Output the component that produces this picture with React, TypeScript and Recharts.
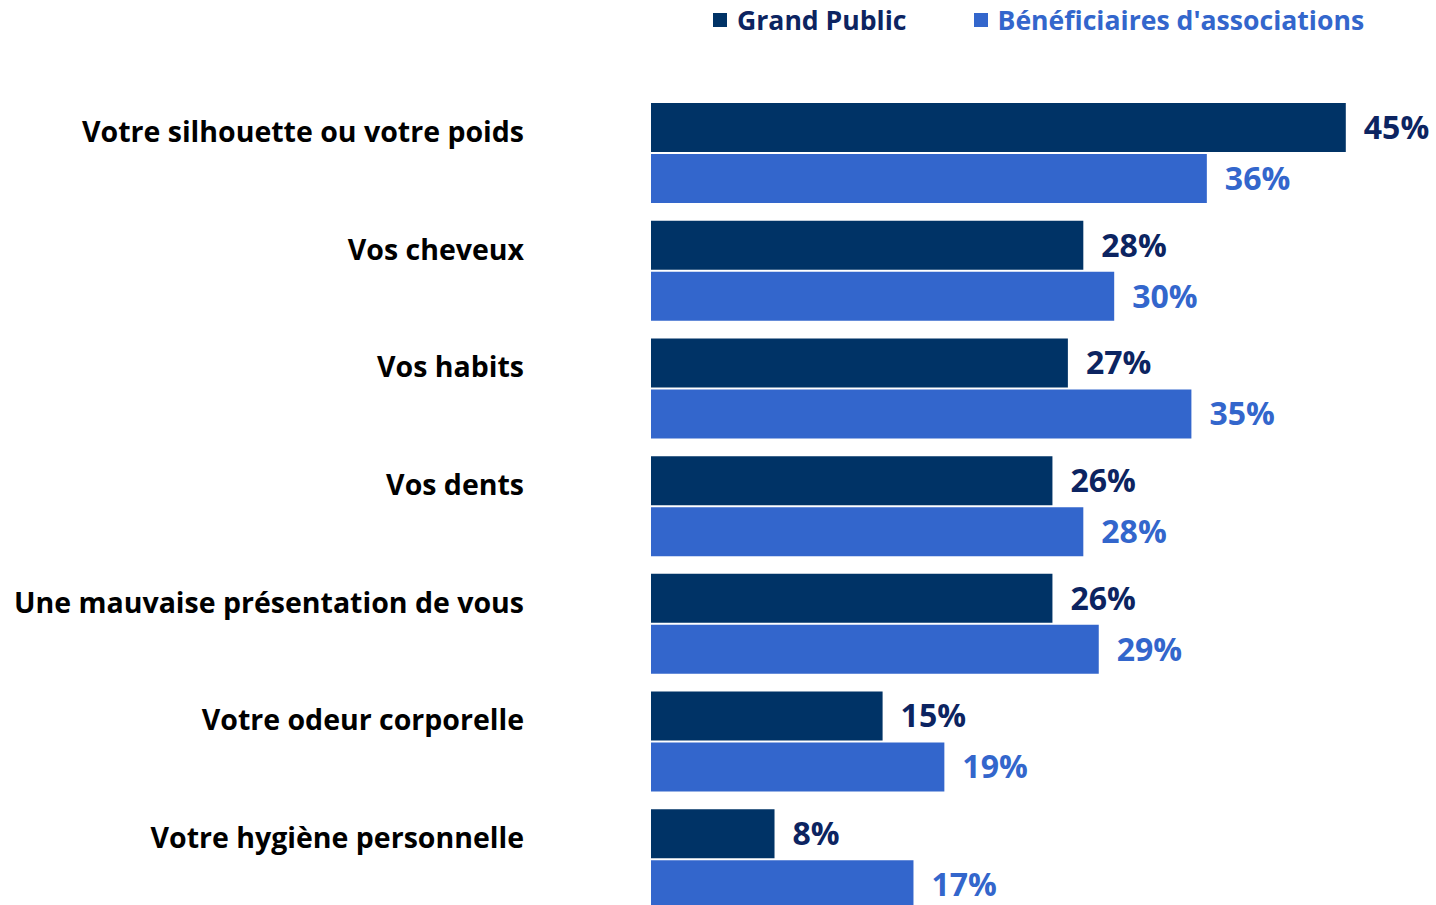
import React from 'react';
import { Bar, BarChart, LabelList, XAxis, YAxis } from 'recharts';

// categories (top to bottom)
const categories = [
    'Votre silhouette ou votre poids',
    'Vos cheveux',
    'Vos habits',
    'Vos dents',
    'Une mauvaise présentation de vous',
    'Votre odeur corporelle',
    'Votre hygiène personnelle',
];
const grandPublic = [45, 28, 27, 26, 26, 15, 8];
const beneficiaires = [36, 30, 35, 28, 29, 19, 17];

const seriesNames = ['Grand Public', "Bénéficiaires d'associations"];

const DARK = '#003366';
const LIGHT = '#3366cc';
const DARK_TEXT = '#0c2461';
const FONT = '"Open Sans", Lato, sans-serif';

const data = categories.map((name, i) => ({
    name,
    gp: grandPublic[i],
    ba: beneficiaires[i],
}));

const CategoryTick = (props: any) => {
    const { x, y, payload } = props;
    return (
        <text
            x={x - 119}
            y={y - 22}
            textAnchor="end"
            dominantBaseline="central"
            fontFamily={FONT}
            fontWeight={700}
            fontSize={28.5}
            fill="#000000"
        >
            {payload.value}
        </text>
    );
};

const LegendBox = () => (
    <div
        style={{
            position: 'absolute',
            top: 2,
            left: 713,
            display: 'flex',
            fontFamily: FONT,
            fontWeight: 700,
            fontSize: 26.6,
            whiteSpace: 'nowrap',
        }}
    >
        {seriesNames.map((s, i) => (
            <div
                key={s}
                style={{
                    display: 'flex',
                    alignItems: 'center',
                    marginRight: i === 0 ? 67 : 0,
                    color: i === 0 ? DARK_TEXT : LIGHT,
                }}
            >
                <span
                    style={{
                        display: 'inline-block',
                        width: 14,
                        height: 14,
                        background: i === 0 ? DARK : LIGHT,
                        marginRight: 10,
                    }}
                />
                {s}
            </div>
        ))}
    </div>
);

export default function App() {
    return (
        <div
            style={{
                position: 'fixed',
                top: 0,
                left: 0,
                width: 1436,
                height: 905,
                overflow: 'hidden',
                background: '#ffffff',
            }}
        >
            <LegendBox />
            <BarChart
                width={1436}
                height={931}
                layout="vertical"
                data={data}
                margin={{ top: 94, right: 13, bottom: 13, left: 0 }}
                barSize={49}
                barGap={2}
            >
                <XAxis type="number" domain={[0, 50]} hide />
                <YAxis
                    type="category"
                    dataKey="name"
                    width={651}
                    axisLine={false}
                    tickLine={false}
                    tick={<CategoryTick />}
                    interval={0}
                />
                <Bar dataKey="gp" fill={DARK} isAnimationActive={false}>
                    <LabelList
                        dataKey="gp"
                        position="right"
                        offset={18}
                        formatter={(v: any) => `${v}%`}
                        fill={DARK_TEXT}
                        fontFamily={FONT}
                        fontWeight={700}
                        fontSize={32}
                    />
                </Bar>
                <Bar dataKey="ba" fill={LIGHT} isAnimationActive={false}>
                    <LabelList
                        dataKey="ba"
                        position="right"
                        offset={18}
                        formatter={(v: any) => `${v}%`}
                        fill={LIGHT}
                        fontFamily={FONT}
                        fontWeight={700}
                        fontSize={32}
                    />
                </Bar>
            </BarChart>
        </div>
    );
}
